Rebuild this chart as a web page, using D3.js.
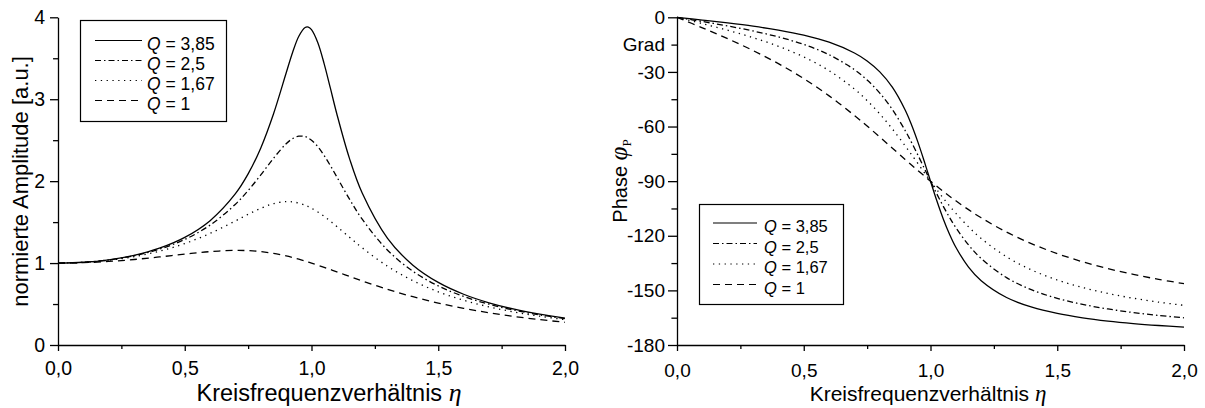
<!DOCTYPE html>
<html>
<head>
<meta charset="utf-8">
<script src="https://cdn.jsdelivr.net/npm/d3@7"></script>
<style>
  html, body { margin: 0; padding: 0; background: #fff; }
  svg { display: block; }
  text { font-family: "Liberation Sans", Arial, sans-serif; fill: #000; }
</style>
</head>
<body>
<svg id="chart" width="1205" height="408"></svg>
<script>
// ---------- data ----------
const seriesLabels = ["3,85", "2,5", "1,67", "1"];
const eta = [0, 0.1, 0.2, 0.3, 0.4, 0.5, 0.6, 0.7, 0.75, 0.8, 0.85, 0.9, 0.925, 0.95, 0.975, 0.9875, 1.0,
             1.025, 1.05, 1.075, 1.1, 1.15, 1.2, 1.3, 1.4, 1.5, 1.6, 1.7, 1.8, 1.9, 2.0];

// normalised amplitude
const ampQ385 = [1, 1.0098, 1.0402, 1.0949, 1.1815, 1.3138, 1.5181, 1.8469, 2.0881, 2.4058, 2.8200, 3.3196, 3.5676, 3.7691, 3.8757, 3.8806, 3.85,
                 3.6900, 3.4323, 3.1283, 2.8201, 2.2749, 1.8546, 1.3018, 0.9741, 0.7638, 0.6194, 0.5152, 0.4370, 0.3765, 0.3284];
const ampQ25  = [1, 1.0093, 1.0381, 1.0895, 1.1695, 1.2883, 1.4630, 1.7188, 1.8851, 2.0762, 2.2786, 2.4566, 2.5178, 2.5490, 2.5438, 2.5250, 2.5,
                 2.4206, 2.3131, 2.1868, 2.0511, 1.7800, 1.5357, 1.1574, 0.8998, 0.7212, 0.5931, 0.4979, 0.4250, 0.3679, 0.3221];
const ampQ167 = [1, 1.0083, 1.0337, 1.0781, 1.1448, 1.2383, 1.3625, 1.5148, 1.5950, 1.6688, 1.7250, 1.7500, 1.7470, 1.7326, 1.7067, 1.6900, 1.67,
                 1.6238, 1.5698, 1.5100, 1.4465, 1.3151, 1.1868, 0.9613, 0.7846, 0.6497, 0.5462, 0.4658, 0.4023, 0.3512, 0.3096];
const ampQ1   = [1, 1.0050, 1.0198, 1.0436, 1.0748, 1.1094, 1.1399, 1.1546, 1.1517, 1.1399, 1.1184, 1.0871, 1.0681, 1.0471, 1.0243, 1.0123, 1.0,
                 0.9744, 0.9479, 0.9206, 0.8930, 0.8373, 0.7824, 0.6795, 0.5891, 0.5121, 0.4475, 0.3934, 0.3480, 0.3098, 0.2774];

// phase in degrees
const phaseQ385 = [0, -1.50, -3.10, -4.89, -7.05, -9.82, -13.69, -19.62, -24.00, -29.99, -38.51, -50.90, -59.01, -68.44, -78.97, -84.47, -90,
                   -100.77, -110.60, -119.13, -126.32, -137.19, -144.69, -153.92, -159.25, -162.69, -165.08, -166.85, -168.21, -169.29, -170.18];
const phaseQ25  = [0, -2.31, -4.76, -7.51, -10.78, -14.93, -20.56, -28.77, -34.44, -41.63, -50.79, -62.18, -68.68, -75.61, -82.78, -86.40, -90,
                   -97.04, -103.71, -109.90, -115.51, -125.03, -132.51, -143.00, -149.74, -154.36, -157.69, -160.21, -162.18, -163.77, -165.07];
const phaseQ167 = [0, -3.46, -7.11, -11.17, -15.92, -21.77, -29.31, -39.41, -45.75, -53.08, -61.40, -70.58, -75.39, -80.27, -85.17, -87.60, -90,
                   -94.72, -99.26, -103.59, -107.68, -115.10, -121.48, -131.55, -138.87, -144.30, -148.44, -151.69, -154.31, -156.45, -158.23];
const phaseQ1   = [0, -5.77, -11.77, -18.25, -25.46, -33.69, -43.15, -53.93, -59.74, -65.77, -71.92, -78.08, -81.13, -84.14, -87.10, -88.56, -90,
                   -92.83, -95.58, -98.24, -100.81, -105.66, -110.14, -117.96, -124.44, -129.81, -134.28, -138.03, -141.21, -143.94, -146.31];

const xMajor = [0, 0.5, 1.0, 1.5, 2.0];
const xMinor = [0.25, 0.75, 1.25, 1.75];
const ampMajor = [0, 1, 2, 3, 4];
const ampMinor = [0.5, 1.5, 2.5, 3.5];
const phaseMajor = [0, -30, -60, -90, -120, -150, -180];
const phaseMinor = [-15, -45, -75, -105, -135, -165];
// ------------------------------------------------------------

const styles = [
  { dash: null },
  { dash: "6,3,1.5,3" },
  { dash: "1.3,4.5" },
  { dash: "7,5" }
];

const svg = d3.select("#chart");
const fmt = d => d.toFixed(1).replace(".", ",");

function panel(cfg) {
  const x = d3.scaleLinear().domain([0, 2]).range([cfg.x0, cfg.x1]);
  const y = d3.scaleLinear().domain(cfg.ydom).range([345, 17.3]);
  const g = svg.append("g");

  // curves
  const line = d3.line().x((d, i) => x(eta[i])).y(d => y(d)).curve(d3.curveCatmullRom.alpha(0.5));
  cfg.series.forEach((s, k) => {
    g.append("path").attr("d", line(s)).attr("fill", "none").attr("stroke", "#000")
      .attr("stroke-width", 1.3).attr("stroke-dasharray", styles[k].dash);
  });

  // y axis
  const yMaj = g.append("g").attr("transform", `translate(${cfg.x0},0)`)
    .call(d3.axisLeft(y).tickValues(cfg.yMajor).tickSize(cfg.yTick).tickSizeOuter(0).tickPadding(cfg.yPad).tickFormat(cfg.yFmt));
  const yMin = g.append("g").attr("transform", `translate(${cfg.x0},0)`)
    .call(d3.axisLeft(y).tickValues(cfg.yMinor).tickSize(cfg.yTick * 0.62).tickSizeOuter(0).tickPadding(cfg.yTick * 0.38 + cfg.yPad).tickFormat(cfg.yMinFmt));
  yMin.select(".domain").remove();
  // x axis
  const xMaj = g.append("g").attr("transform", "translate(0,345)")
    .call(d3.axisBottom(x).tickValues(xMajor).tickSize(6).tickSizeOuter(0).tickFormat(fmt));
  const xMin = g.append("g").attr("transform", "translate(0,345)")
    .call(d3.axisBottom(x).tickValues(xMinor).tickSize(4).tickSizeOuter(0).tickFormat(""));
  xMin.select(".domain").remove();

  [yMaj, yMin, xMaj, xMin].forEach(a => {
    a.selectAll("path, line").attr("stroke", "#000").attr("stroke-width", 1.3);
    a.selectAll("text").attr("font-family", '"Liberation Sans", Arial, sans-serif').attr("fill", "#000");
  });
  yMaj.selectAll("text").attr("font-size", cfg.tickFont);
  yMin.selectAll("text").attr("font-size", cfg.tickFont);
  xMaj.selectAll("text").attr("font-size", cfg.tickFont).attr("dy", null).attr("y", cfg.xLabelBase - 345);

  // x title
  const xt = g.append("text").attr("x", cfg.xTitleX).attr("y", 401).attr("text-anchor", "middle")
    .attr("font-size", cfg.titleFont);
  xt.append("tspan").text("Kreisfrequenzverhältnis ");
  xt.append("tspan").attr("font-family", '"Liberation Serif", "Times New Roman", serif').attr("font-style", "italic")
    .attr("font-size", cfg.titleFont * 1.1).text("η");

  // legend
  const L = cfg.legend;
  g.append("rect").attr("x", L.x).attr("y", L.y).attr("width", L.w).attr("height", L.h)
    .attr("fill", "#fff").attr("stroke", "#000").attr("stroke-width", 1.2);
  seriesLabels.forEach((lab, k) => {
    const by = L.base0 + k * L.step;
    g.append("line").attr("x1", L.lx0).attr("x2", L.lx1).attr("y1", by - L.lineOff).attr("y2", by - L.lineOff)
      .attr("stroke", "#000").attr("stroke-width", 1.2).attr("stroke-dasharray", styles[k].dash);
    const t = g.append("text").attr("x", L.tx).attr("y", by).attr("font-size", L.font);
    t.append("tspan").attr("font-style", "italic").text("Q");
    t.append("tspan").text(" = " + lab);
  });
  return g;
}

// left panel: amplitude
const left = panel({
  x0: 58, x1: 565, ydom: [0, 4],
  series: [ampQ385, ampQ25, ampQ167, ampQ1],
  yMajor: ampMajor, yMinor: ampMinor, yTick: 8, yPad: 5,
  yFmt: d => String(d), yMinFmt: () => "",
  tickFont: 19.5, xLabelBase: 375, titleFont: 23.5, xTitleX: 329,
  legend: { x: 80.5, y: 20.5, w: 146, h: 101, lx0: 95, lx1: 142, tx: 147, base0: 50, step: 20, lineOff: 9.5, font: 17.5 }
});
left.append("text").attr("transform", "translate(28,181.5) rotate(-90)").attr("text-anchor", "middle")
  .attr("font-size", 22).text("normierte Amplitude [a.u.]");

// right panel: phase
const right = panel({
  x0: 677, x1: 1184, ydom: [-180, 0],
  series: [phaseQ385, phaseQ25, phaseQ167, phaseQ1],
  yMajor: phaseMajor, yMinor: phaseMinor, yTick: 9, yPad: 3,
  yFmt: d => String(d), yMinFmt: d => (d === -15 ? "Grad" : ""),
  tickFont: 19, xLabelBase: 377, titleFont: 21, xTitleX: 928,
  legend: { x: 699.5, y: 204.5, w: 144, h: 100, lx0: 713, lx1: 757, tx: 764, base0: 232, step: 20.5, lineOff: 9, font: 16.5 }
});
const yt = right.append("text").attr("transform", "translate(627,181) rotate(-90)").attr("text-anchor", "middle")
  .attr("font-size", 20);
yt.append("tspan").text("Phase ");
yt.append("tspan").attr("font-family", '"Liberation Serif", "Times New Roman", serif').attr("font-style", "italic")
  .attr("font-size", 25).text("φ");
yt.append("tspan").attr("font-family", '"Liberation Serif", "Times New Roman", serif')
  .attr("font-size", 13).attr("dy", 4).text("P");
</script>
</body>
</html>
